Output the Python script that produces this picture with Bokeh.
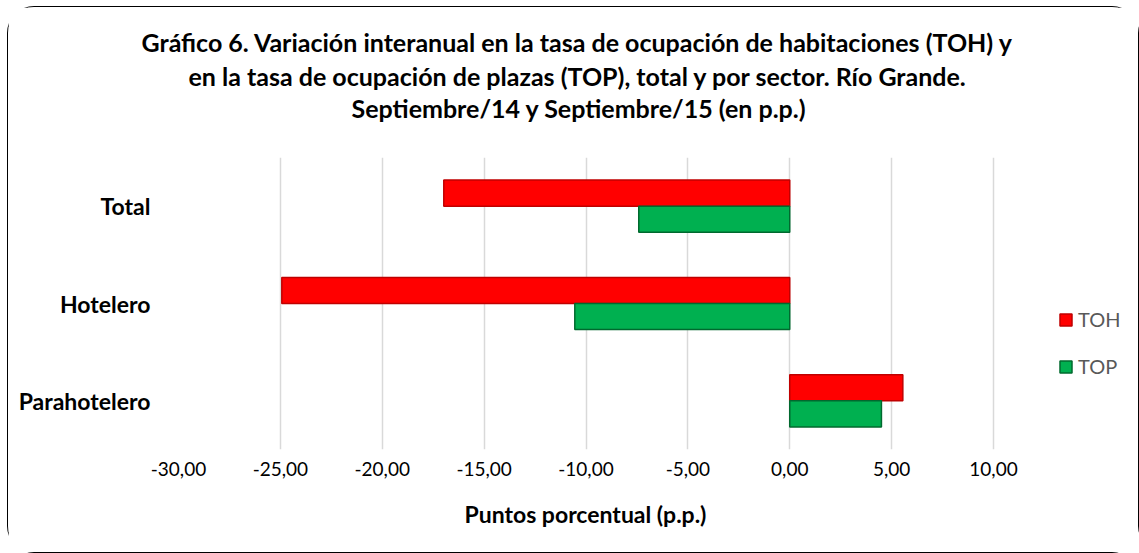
from bokeh.plotting import figure
from bokeh.models import (FactorRange, FixedTicker, CustomJSTickFormatter, Legend, LegendItem,
                          ColumnDataSource, Title, Range1d)
from bokeh.transform import dodge
from bokeh.embed import file_html
from bokeh.resources import INLINE

categories = ["Total", "Hotelero", "Parahotelero"]
toh = [-16.98, -24.93, 5.55]
top = [-7.41, -10.55, 4.50]
x_ticks = [-30, -25, -20, -15, -10, -5, 0, 5, 10]
title_lines = ["Gráfico 6. Variación interanual en la tasa de ocupación de habitaciones (TOH) y",
               "en la tasa de ocupación de plazas (TOP), total y por sector. Río Grande.",
               "Septiembre/14 y  Septiembre/15 (en p.p.)"]
x_label = "Puntos porcentual (p.p.)"
series_names = ["TOH", "TOP"]

FONT = "Lato"

# layout: axis from -30 to 10 spans 815 px; the frame is widened to the right to host the legend
W, H = 1132, 547
ML, MR, MT, MB = 170, 0, 150, 105
frame_w = W - ML - MR
axis_min, axis_max = x_ticks[0], x_ticks[-1]
x_end = axis_min + (axis_max - axis_min) * frame_w / 815.0

src = ColumnDataSource(dict(cat=categories, toh=toh, top=top))

p = figure(width=W, height=H, output_backend="svg", toolbar_location=None,
           y_range=FactorRange(factors=list(reversed(categories))),
           x_range=Range1d(axis_min, x_end),
           min_border_left=ML, min_border_right=MR, min_border_top=MT, min_border_bottom=MB)

p.title.text = ""
p.title.standoff = 0

# spacer above the frame
p.add_layout(Title(text=" ", text_font=FONT, text_font_size="10px", standoff=21), "above")
title_offsets = [-37, 10, 173]
title_standoffs = [4, 0, 0]
for line, off, so in reversed(list(zip(title_lines, title_offsets, title_standoffs))):
    p.add_layout(Title(text=line, align="left", offset=off, text_font=FONT,
                       text_font_size="25px", text_font_style="bold", text_color="#000000",
                       standoff=so), "above")

r1 = p.hbar(y=dodge("cat", 0.134, range=p.y_range), right="toh", left=0, height=0.268,
            source=src, fill_color="#FF0000", line_color="#C00000", line_width=1.5)
r2 = p.hbar(y=dodge("cat", -0.134, range=p.y_range), right="top", left=0, height=0.268,
            source=src, fill_color="#00B050", line_color="#00692E", line_width=1.5)

legend = Legend(items=[LegendItem(label=series_names[0], renderers=[r1]),
                       LegendItem(label=series_names[1], renderers=[r2])],
                location=(880, 71), padding=0, margin=0, spacing=23,
                glyph_width=15, glyph_height=15, label_height=23, label_standoff=5,
                label_text_font=FONT, label_text_font_size="20px", label_text_color="#595959",
                border_line_color=None, background_fill_alpha=0)
p.add_layout(legend)

p.xaxis.ticker = FixedTicker(ticks=x_ticks)
p.xaxis.formatter = CustomJSTickFormatter(code="return tick.toFixed(2).replace('.', ',');")
p.xaxis.major_label_text_font = FONT
p.xaxis.major_label_text_font_size = "19px"
p.xaxis.major_label_text_color = "#000000"
p.xaxis.major_label_standoff = 6
p.xaxis.axis_line_color = None
p.xaxis.major_tick_line_color = None
p.xaxis.minor_tick_line_color = None

p.add_layout(Title(text=x_label, align="left", offset=286, vertical_align="top",
                   text_font=FONT, text_font_size="23px", text_font_style="bold",
                   text_color="#000000", standoff=42), "below")

p.yaxis.major_label_text_font = FONT
p.yaxis.major_label_text_font_size = "23px"
p.yaxis.major_label_text_font_style = "bold"
p.yaxis.major_label_text_color = "#000000"
p.yaxis.major_label_standoff = 22
p.yaxis.axis_line_color = None
p.yaxis.major_tick_line_color = None
p.yaxis.minor_tick_line_color = None

p.xgrid.grid_line_color = "#D9D9D9"
p.xgrid.grid_line_width = 1.5
p.ygrid.grid_line_color = None
p.outline_line_color = None
p.styles = {"border": "1.5px solid #000000", "border-radius": "27px", "box-sizing": "border-box",
            "margin-left": "7px", "margin-top": "6px"}

open("out.html", "w").write(file_html(p, INLINE))
